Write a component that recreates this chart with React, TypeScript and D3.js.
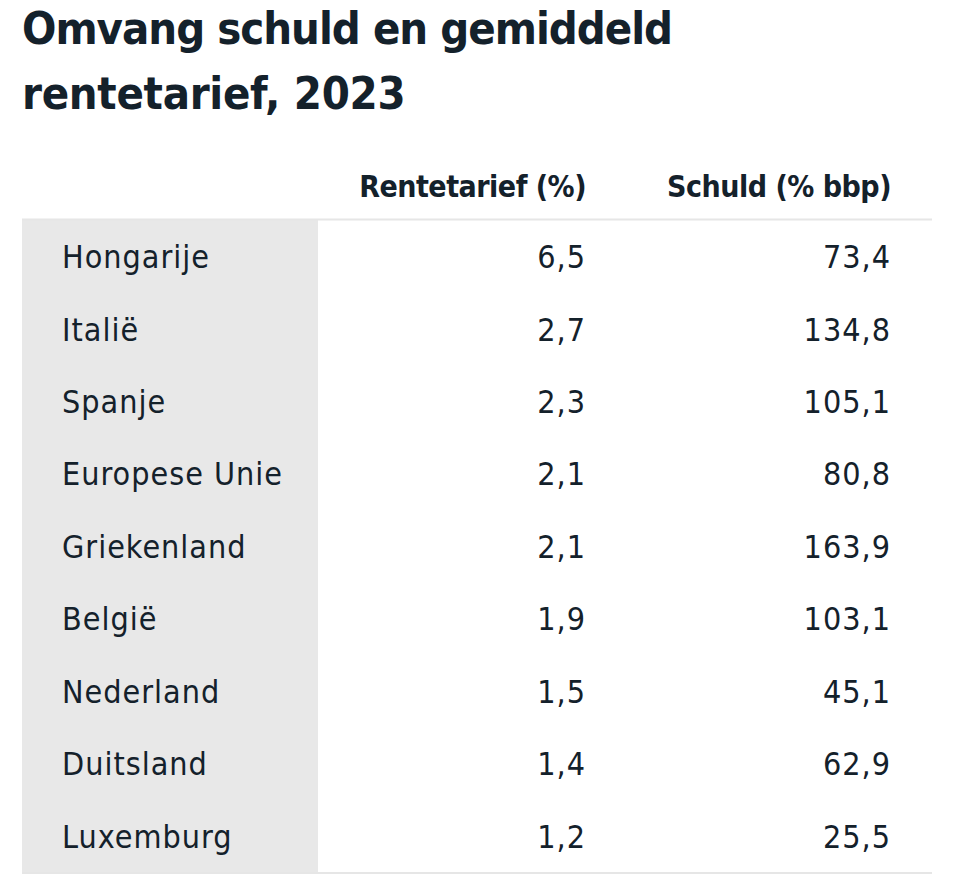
import React from "react";
import * as d3 from "d3";

const titleLines = ["Omvang schuld en gemiddeld", "rentetarief, 2023"];
const columns = ["Rentetarief (%)", "Schuld (% bbp)"];
const countries = [
  "Hongarije",
  "Italië",
  "Spanje",
  "Europese Unie",
  "Griekenland",
  "België",
  "Nederland",
  "Duitsland",
  "Luxemburg",
];
const rente = ["6,5", "2,7", "2,3", "2,1", "2,1", "1,9", "1,5", "1,4", "1,2"];
const schuld = ["73,4", "134,8", "105,1", "80,8", "163,9", "103,1", "45,1", "62,9", "25,5"];

const W = 956;
const H = 891;
const TEXT = "#14212b";

export default function App() {
  const y = d3.scaleBand<string>().domain(countries).range([220, 872]);
  const colX = d3.scaleOrdinal<string, number>().domain(columns).range([586, 891]);
  const font = "'DejaVu Sans Condensed', 'Liberation Sans Narrow', sans-serif";
  return (
    <svg
      width={W}
      height={H}
      style={{ position: "absolute", left: 0, top: 0, background: "#fff" }}
    >
      {titleLines.map((t, i) => (
        <text
          key={t}
          x={22}
          y={44 + i * 65}
          fontFamily={font}
          fontWeight={700}
          fontSize={45}
          letterSpacing={i === 0 ? -1 : -0.3}
          fill={TEXT}
        >
          {t}
        </text>
      ))}
      {columns.map((c) => (
        <text
          key={c}
          x={colX(c)}
          y={197}
          textAnchor="end"
          fontFamily={font}
          fontWeight={700}
          fontSize={30}
          letterSpacing={-0.5}
          fill={TEXT}
        >
          {c}
        </text>
      ))}
      <rect x={22} y={220} width={296} height={652} fill="#e8e8e8" />
      <line x1={22} x2={932} y1={219.5} y2={219.5} stroke="#e6e6e6" strokeWidth={2} />
      <line x1={22} x2={932} y1={873} y2={873} stroke="#e6e6e6" strokeWidth={2} />
      {countries.map((c, i) => {
        const cy = (y(c) as number) + y.bandwidth() / 2;
        return (
          <g key={c} fontFamily={font} fontSize={32} letterSpacing={1} fill={TEXT}>
            <text x={62} y={cy} dy="0.37em">
              {c}
            </text>
            <text x={colX(columns[0])} y={cy} dy="0.37em" textAnchor="end">
              {rente[i]}
            </text>
            <text x={colX(columns[1])} y={cy} dy="0.37em" textAnchor="end">
              {schuld[i]}
            </text>
          </g>
        );
      })}
    </svg>
  );
}
